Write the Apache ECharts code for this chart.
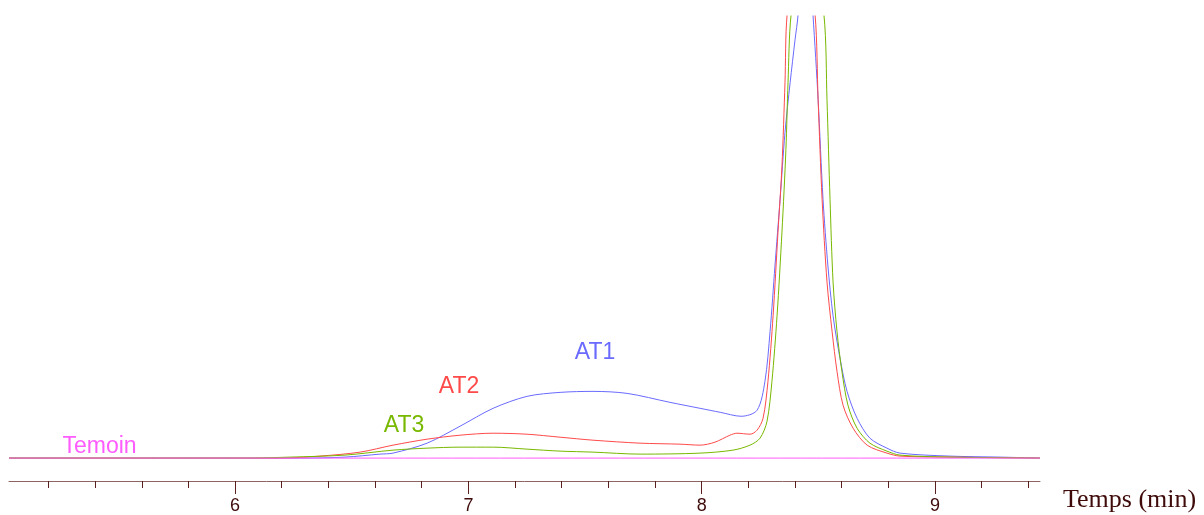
<!DOCTYPE html>
<html>
<head>
<meta charset="utf-8">
<script src="https://cdn.jsdelivr.net/npm/echarts@6/dist/echarts.min.js"></script>
<style>
html,body{margin:0;padding:0;background:#fff;}
#c{width:1204px;height:515px;}
</style>
</head>
<body>
<div id="c"></div>
<script>
// Time axis (min)
const xMin = 5.031, xMax = 9.45;
const majorTicks = [6, 7, 8, 9];
const minorTicks = [5.2, 5.4, 5.6, 5.8, 6.2, 6.4, 6.6, 6.8, 7.2, 7.4, 7.6, 7.8, 8.2, 8.4, 8.6, 8.8, 9.2, 9.4];

// AT1 (blue)
const at1Time = [5.031, 6.279, 6.471, 6.621, 6.677, 6.823, 6.964, 7.106, 7.251, 7.393, 7.534, 7.680, 7.864, 7.993, 8.079, 8.169, 8.237, 8.271, 8.293, 8.314, 8.336, 8.357, 8.379, 8.400, 8.413, 8.443, 8.477, 8.499, 8.520, 8.541, 8.563, 8.593, 8.623, 8.666, 8.721, 8.794, 8.850, 9.064, 9.279, 9.450];
const at1Signal = [0, 0, 1, 4, 5, 15, 32, 50, 62, 66, 67, 65, 56, 50, 46, 42, 48, 77, 127, 193, 260, 327, 377, 420, 445, 560, 445, 360, 260, 193, 143, 100, 67, 40, 20, 10, 5, 2, 1, 0];

// AT2 (red)
const at2Time = [5.031, 6.193, 6.364, 6.536, 6.677, 6.823, 6.964, 7.106, 7.251, 7.393, 7.534, 7.736, 7.907, 7.993, 8.057, 8.121, 8.151, 8.207, 8.237, 8.263, 8.284, 8.306, 8.327, 8.344, 8.357, 8.366, 8.426, 8.486, 8.499, 8.516, 8.537, 8.559, 8.580, 8.606, 8.649, 8.709, 8.794, 8.850, 9.064, 9.450];
const at2Signal = [0, 0, 2, 6, 13, 19, 23, 25, 24, 21, 18, 15, 14, 13, 16, 23, 25, 24, 28, 40, 77, 143, 227, 293, 377, 445, 560, 445, 360, 260, 177, 127, 87, 53, 30, 13, 5, 2, 1, 0];

// AT3 (green)
const at3Time = [5.031, 6.043, 6.236, 6.471, 6.677, 6.823, 6.964, 7.106, 7.251, 7.393, 7.534, 7.736, 7.993, 8.134, 8.207, 8.250, 8.280, 8.301, 8.323, 8.344, 8.361, 8.370, 8.383, 8.451, 8.524, 8.537, 8.550, 8.563, 8.580, 8.601, 8.627, 8.666, 8.721, 8.794, 8.850, 9.064, 9.450];
const at3Signal = [0, 0, 1, 3, 8, 10, 11, 11, 9, 7, 6, 4, 5, 8, 13, 20, 37, 77, 143, 227, 310, 377, 445, 560, 445, 360, 260, 177, 127, 87, 53, 30, 15, 7, 3, 1, 0];

// Temoin (magenta)
const temoinTime = [5.031, 9.450];
const temoinSignal = [0, 0];

// Curve labels [time, signal]
const labelAt = [[7.543, 106], [6.96, 72], [6.724, 33], [5.419, 11]];

const colors = ['#6a6aff', '#ff4a4a', '#78b800', '#ff5cff'];

const zip = (a, b) => a.map((v, i) => [v, b[i]]);

const chart = echarts.init(document.getElementById('c'), null, {renderer: 'canvas'});

function mkSeries(name, t, s, color, idx) {
  return {
    name: name,
    type: 'line',
    data: zip(t, s),
    symbol: 'none',
    smooth: 0.3,
    clip: true,
    lineStyle: {color: color, width: 1},
    itemStyle: {color: color},
    z: idx === 3 ? 5 : 3,
    markPoint: {
      symbol: 'circle',
      symbolSize: 0,
      silent: true,
      data: [{coord: labelAt[idx], value: name}],
      label: {
        show: true,
        position: 'inside',
        formatter: name,
        color: color,
        fontFamily: 'Liberation Sans, Arial, sans-serif',
        fontSize: 23
      }
    }
  };
}

const axisColor = '#8c6464';
const textColor = '#3e0a0a';

chart.setOption({
  animation: false,
  backgroundColor: '#ffffff',
  grid: {left: 9, right: 164, top: 16, bottom: 31, containLabel: false},
  xAxis: [
    {
      type: 'value',
      min: xMin,
      max: xMax,
      position: 'bottom',
      axisLine: {show: true, onZero: false, lineStyle: {color: axisColor, width: 1}},
      axisTick: {show: true, customValues: majorTicks, length: 13, inside: false, lineStyle: {color: '#5a2020', width: 1}},
      axisLabel: {show: true, customValues: majorTicks, margin: 16, color: textColor, fontSize: 18, fontFamily: 'Liberation Sans, Arial, sans-serif'},
      splitLine: {show: false},
      name: 'Temps (min)',
      nameLocation: 'end',
      nameGap: 23,
      nameTextStyle: {color: textColor, fontSize: 26, fontFamily: 'Liberation Serif, Times New Roman, serif', align: 'left', verticalAlign: 'top', padding: [6, 0, 0, 0]}
    },
    {
      type: 'value',
      min: xMin,
      max: xMax,
      position: 'bottom',
      axisLine: {show: false, onZero: false},
      axisTick: {show: true, customValues: minorTicks, length: 7, lineStyle: {color: '#5a2020', width: 1}},
      axisLabel: {show: false},
      splitLine: {show: false}
    }
  ],
  yAxis: {
    type: 'value',
    min: -23,
    max: 444,
    show: false,
    splitLine: {show: false}
  },
  series: [
    mkSeries('AT1', at1Time, at1Signal, colors[0], 0),
    mkSeries('AT2', at2Time, at2Signal, colors[1], 1),
    mkSeries('AT3', at3Time, at3Signal, colors[2], 2),
    mkSeries('Temoin', temoinTime, temoinSignal, colors[3], 3)
  ]
});
</script>
</body>
</html>
